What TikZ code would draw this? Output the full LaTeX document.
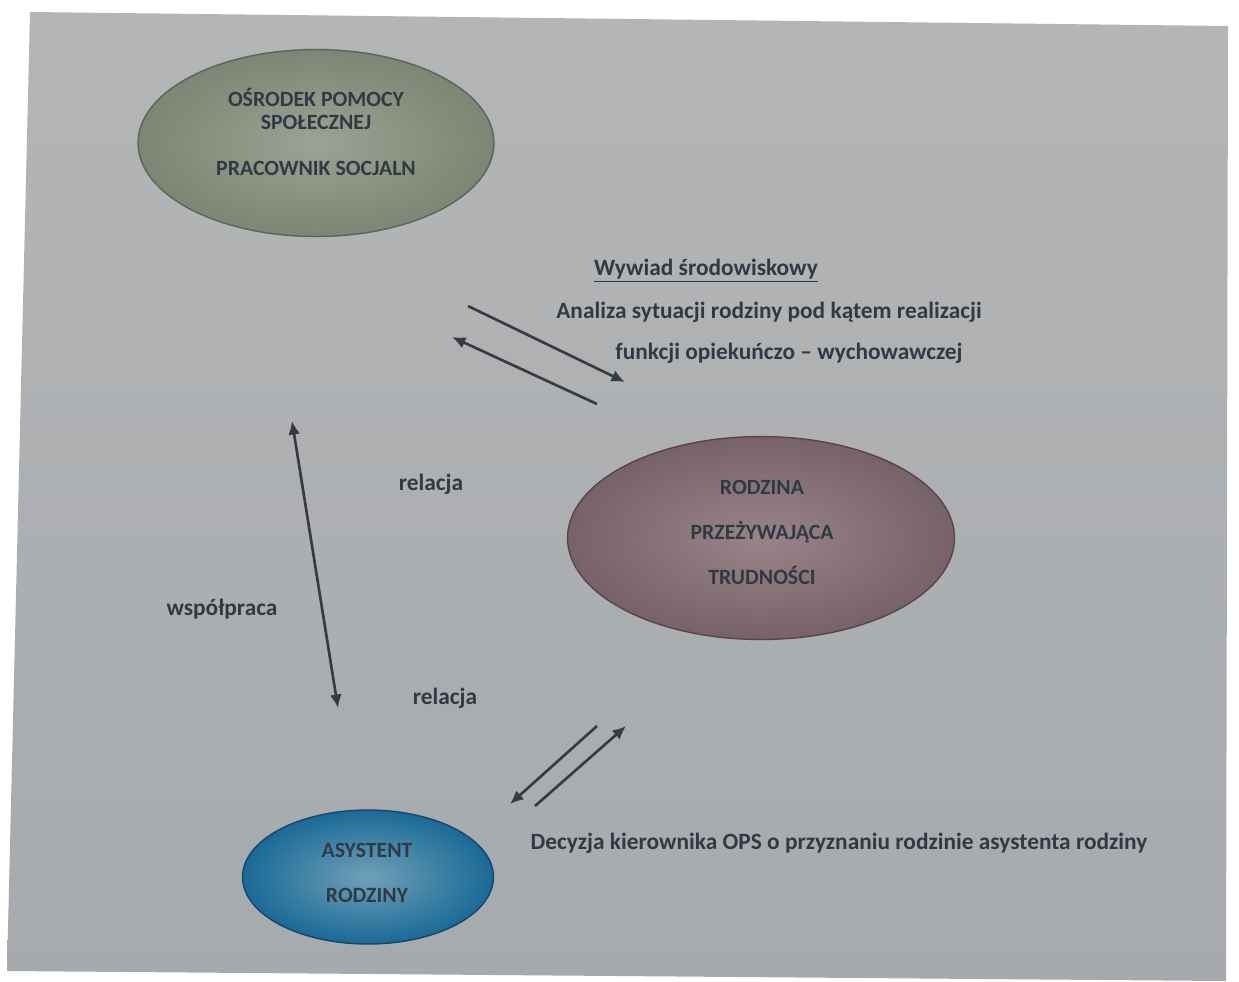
\documentclass[tikz,border=0pt]{standalone}
\usepackage{fontspec}
\setmainfont{Carlito}
\usepackage{tikz}
\usetikzlibrary{arrows, arrows.meta, positioning, shapes}

\definecolor{tekst}{RGB}{48,58,68}
\definecolor{strz}{RGB}{55,58,62}

\tikzset{
  grot/.tip     = {Latex[length=0.27cm, width=0.24cm]},
  napis/.style  = {font=\bfseries\fontsize{13.3}{15}\selectfont, text=tekst, align=center},
  owalnapis/.style = {font=\bfseries\fontsize{12.4}{13}\selectfont, text=tekst, align=center},
  owal/.style   = {ellipse, line width=0.8pt},
  strzalka/.style = {draw=strz, line width=1.5pt, -grot}
}

\begin{document}
\begin{tikzpicture}[x=0.02cm, y=-0.02cm]

\useasboundingbox (0,0) rectangle (1239,981);
\fill [white] (0,0) rectangle (1239,981);
\shade [top color={rgb,255:red,180;green,181;blue,182}, bottom color={rgb,255:red,166;green,170;blue,174}]
  (30,12) -- (1228,26) -- (1226,981) -- (7,971) -- cycle;

% owale
\node [owal, draw={rgb,255:red,92;green,100;blue,90}, minimum width=7.12cm, minimum height=3.74cm,
       inner color={rgb,255:red,156;green,162;blue,148}, outer color={rgb,255:red,124;green,134;blue,116}] (ops)  at (316,143) {};
\node [owal, draw={rgb,255:red,88;green,68;blue,74}, minimum width=7.74cm, minimum height=4.06cm,
       inner color={rgb,255:red,152;green,132;blue,136}, outer color={rgb,255:red,120;green,98;blue,106}] (rodz) at (761,538) {};
\node [owal, draw={rgb,255:red,22;green,70;blue,105}, minimum width=5.02cm, minimum height=2.68cm,
       inner color={rgb,255:red,112;green,160;blue,184}, outer color={rgb,255:red,26;green,106;blue,150}] (asys) at (368,877) {};

\node [owalnapis] (opsT)  at (316,132) {OŚRODEK POMOCY\\SPOŁECZNEJ\\[13pt]PRACOWNIK SOCJALN};
\node [owalnapis] (rodzT) at (762,532) {RODZINA\\[12.6pt]PRZEŻYWAJĄCA\\[12.6pt]TRUDNOŚCI};
\node [owalnapis] (asysT) at (367,873) {ASYSTENT\\[12.6pt]RODZINY};

% opisy
\node [napis] (wyw)  at (706,271) {\underline{Wywiad środowiskowy}};
\node [napis] (anal) at (769,312) {Analiza sytuacji rodziny pod kątem realizacji};
\node [napis] (funk) at (789,353) {funkcji opiekuńczo -- wychowawczej};
\node [napis] (rel1) at (431,484) {relacja};
\node [napis] (wsp)  at (222,609) {współpraca};
\node [napis] (rel2) at (445,698) {relacja};
\node [napis] (dec)  at (839,843) {Decyzja kierownika OPS o przyznaniu rodzinie asystenta rodziny};

% konce strzalek
\coordinate (w1) at (468,306);
\coordinate (w2) at (625,382);
\coordinate (w3) at (597,404);
\coordinate (w4) at (452,337);
\coordinate (v1) at (292,421);
\coordinate (v2) at (338,708);
\coordinate (d1) at (597,726);
\coordinate (d2) at (510,804);
\coordinate (d3) at (535,806);
\coordinate (d4) at (626,726);

\path (w1) edge [strzalka] (w2);
\path (w3) edge [strzalka] (w4);
\path (v1) edge [strzalka, grot-grot] (v2);
\path (d1) edge [strzalka] (d2);
\path (d3) edge [strzalka] (d4);

\end{tikzpicture}
\end{document}
